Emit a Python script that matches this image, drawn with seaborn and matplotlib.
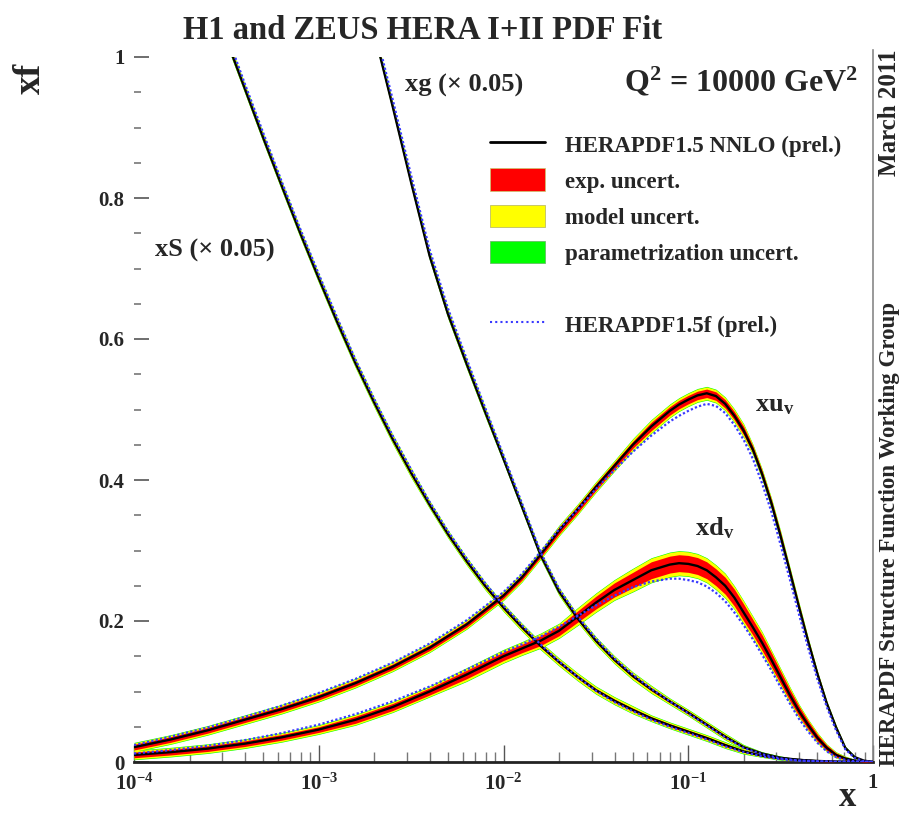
import numpy as np
import pandas as pd
import matplotlib
matplotlib.use("Agg")
import matplotlib.pyplot as plt
import seaborn as sns
from matplotlib.lines import Line2D
from matplotlib.patches import Patch
from matplotlib.ticker import FixedLocator, FixedFormatter, LogLocator, NullFormatter, MultipleLocator

# ---------------- data ----------------
# valence grid (log10 x)
logx_val = [-4.0, -3.8, -3.6, -3.4, -3.2, -3.0, -2.8, -2.6, -2.4, -2.2, -2.0,
            -1.9, -1.8, -1.7, -1.6, -1.5, -1.4, -1.3, -1.2, -1.1,
            -1.05, -1.0, -0.95, -0.9, -0.85, -0.8, -0.75, -0.7, -0.65, -0.6, -0.55, -0.5,
            -0.45, -0.4, -0.35, -0.3, -0.25, -0.2, -0.15, -0.1, -0.05, 0.0]
xuv = [0.021, 0.032, 0.045, 0.060, 0.075, 0.092, 0.112, 0.135, 0.162, 0.195, 0.236,
       0.262, 0.294, 0.328, 0.358, 0.390, 0.420, 0.450, 0.476, 0.498,
       0.507, 0.514, 0.520, 0.523, 0.519, 0.508, 0.491, 0.470, 0.443, 0.408, 0.367, 0.320,
       0.270, 0.219, 0.170, 0.124, 0.083, 0.049, 0.020, 0.007, 0.002, 0.0]
xuv_f = [0.024, 0.036, 0.049, 0.064, 0.080, 0.098, 0.118, 0.141, 0.168, 0.201, 0.241,
         0.267, 0.298, 0.330, 0.358, 0.387, 0.414, 0.440, 0.463, 0.483,
         0.491, 0.498, 0.504, 0.508, 0.505, 0.495, 0.478, 0.457, 0.430, 0.395, 0.355, 0.308,
         0.259, 0.209, 0.161, 0.117, 0.078, 0.045, 0.018, 0.006, 0.001, 0.0]
xuv_exp = [0.004, 0.004, 0.004, 0.004, 0.004, 0.004, 0.004, 0.004, 0.004, 0.004, 0.004,
           0.004, 0.004, 0.005, 0.005, 0.005, 0.005, 0.005, 0.006, 0.006,
           0.006, 0.006, 0.006, 0.006, 0.006, 0.006, 0.006, 0.006, 0.005, 0.005, 0.005, 0.005,
           0.004, 0.004, 0.003, 0.003, 0.002, 0.002, 0.001, 0.001, 0.0005, 0.0]
xuv_mod = [0.002, 0.002, 0.002, 0.002, 0.002, 0.002, 0.002, 0.002, 0.002, 0.002, 0.002,
           0.002, 0.002, 0.002, 0.002, 0.002, 0.002, 0.003, 0.003, 0.003,
           0.003, 0.003, 0.003, 0.003, 0.003, 0.003, 0.003, 0.003, 0.002, 0.002, 0.002, 0.002,
           0.002, 0.002, 0.002, 0.001, 0.001, 0.001, 0.001, 0.0005, 0.0, 0.0]
xuv_par = [0.0008, 0.0008, 0.0008, 0.0008, 0.0008, 0.0008, 0.0008, 0.0008, 0.0008, 0.0008, 0.0008,
           0.0008, 0.0008, 0.0008, 0.0008, 0.0008, 0.0008, 0.0008, 0.0008, 0.0008,
           0.0008, 0.0008, 0.0008, 0.0008, 0.0008, 0.0008, 0.0008, 0.0008, 0.0008, 0.0008, 0.0008,
           0.0008, 0.0008, 0.0008, 0.0005, 0.0005, 0.0005, 0.0005, 0.0003, 0.0003, 0.0, 0.0]

xdv = [0.010, 0.014, 0.019, 0.026, 0.035, 0.046, 0.060, 0.078, 0.100, 0.124, 0.150,
       0.161, 0.172, 0.186, 0.206, 0.226, 0.244, 0.258, 0.272, 0.280,
       0.282, 0.281, 0.278, 0.272, 0.262, 0.250, 0.233, 0.212, 0.191, 0.169, 0.145, 0.120,
       0.095, 0.072, 0.052, 0.034, 0.020, 0.010, 0.005, 0.002, 0.0005, 0.0]
xdv_f = [0.012, 0.017, 0.023, 0.031, 0.041, 0.053, 0.068, 0.086, 0.107, 0.131, 0.156,
         0.167, 0.178, 0.192, 0.207, 0.222, 0.236, 0.248, 0.256, 0.260,
         0.260, 0.258, 0.255, 0.249, 0.240, 0.228, 0.212, 0.194, 0.174, 0.152, 0.130, 0.106,
         0.083, 0.061, 0.043, 0.027, 0.015, 0.007, 0.003, 0.001, 0.0003, 0.0]
xdv_exp = [0.004, 0.004, 0.004, 0.004, 0.004, 0.004, 0.005, 0.005, 0.005, 0.006, 0.006,
           0.006, 0.007, 0.007, 0.008, 0.009, 0.010, 0.011, 0.012, 0.012,
           0.012, 0.012, 0.012, 0.012, 0.012, 0.012, 0.012, 0.012, 0.011, 0.011, 0.010, 0.009,
           0.008, 0.007, 0.006, 0.005, 0.004, 0.003, 0.002, 0.001, 0.0005, 0.0]
xdv_mod = [0.002, 0.002, 0.002, 0.002, 0.002, 0.002, 0.002, 0.002, 0.002, 0.003, 0.003,
           0.003, 0.003, 0.003, 0.004, 0.004, 0.004, 0.005, 0.005, 0.005,
           0.005, 0.005, 0.005, 0.005, 0.005, 0.005, 0.004, 0.004, 0.004, 0.004, 0.003, 0.003,
           0.003, 0.002, 0.002, 0.002, 0.001, 0.001, 0.001, 0.0005, 0.0, 0.0]
xdv_par = [0.0008, 0.0008, 0.0008, 0.0008, 0.0008, 0.0008, 0.0008, 0.0008, 0.0008, 0.0008, 0.0008,
           0.0008, 0.0008, 0.0008, 0.0008, 0.0008, 0.0008, 0.0008, 0.0008, 0.0008,
           0.0008, 0.0008, 0.0008, 0.0008, 0.0008, 0.0008, 0.0008, 0.0008, 0.0008, 0.0008, 0.0008,
           0.0008, 0.0008, 0.0008, 0.0005, 0.0005, 0.0005, 0.0005, 0.0003, 0.0003, 0.0, 0.0]

# sea (x 0.05)
logx_sea = [-3.55, -3.4, -3.3, -3.2, -3.1, -3.0, -2.9, -2.8, -2.7, -2.6, -2.5, -2.4, -2.3, -2.2, -2.1,
            -2.0, -1.9, -1.8, -1.7, -1.6, -1.5, -1.4, -1.3, -1.2, -1.1, -1.0, -0.9, -0.8, -0.7, -0.6,
            -0.5, -0.4, -0.3, -0.2, 0.0]
xS = [1.06, 0.955, 0.885, 0.817, 0.750, 0.686, 0.624, 0.565, 0.510, 0.458, 0.410, 0.365, 0.323, 0.285,
      0.250, 0.219, 0.191, 0.165, 0.142, 0.121, 0.102, 0.087, 0.074, 0.062, 0.052, 0.043, 0.034, 0.024,
      0.015, 0.009, 0.005, 0.003, 0.0015, 0.0005, 0.0]
xS_f = [1.07, 0.962, 0.892, 0.823, 0.756, 0.692, 0.630, 0.570, 0.515, 0.463, 0.415, 0.369, 0.327,
        0.289, 0.254, 0.222, 0.194, 0.167, 0.143, 0.121, 0.101, 0.085, 0.072, 0.060, 0.050, 0.041,
        0.032, 0.022, 0.014, 0.008, 0.004, 0.002, 0.001, 0.0003, 0.0]
xS_exp = [0.002, 0.002, 0.002, 0.002, 0.002, 0.002, 0.002, 0.002, 0.002, 0.002, 0.002, 0.002, 0.002,
          0.002, 0.002, 0.002, 0.002, 0.002, 0.002, 0.002, 0.002, 0.002, 0.002, 0.002, 0.002, 0.002,
          0.002, 0.002, 0.001, 0.001, 0.001, 0.0005, 0.0005, 0.0, 0.0]
xS_mod = [0.004, 0.004, 0.004, 0.004, 0.004, 0.004, 0.004, 0.004, 0.004, 0.004, 0.004, 0.003, 0.003,
          0.003, 0.003, 0.003, 0.003, 0.003, 0.003, 0.003, 0.003, 0.003, 0.003, 0.002, 0.002, 0.002,
          0.002, 0.002, 0.002, 0.001, 0.001, 0.0005, 0.0005, 0.0, 0.0]
xS_par = [0.0008, 0.0008, 0.0008, 0.0008, 0.0008, 0.0008, 0.0008, 0.0008, 0.0008, 0.0008, 0.0008,
          0.0008, 0.0008, 0.0008, 0.0008, 0.0008, 0.0008, 0.0008, 0.0008, 0.0008, 0.0008, 0.0008,
          0.0008, 0.0008, 0.0008, 0.0008, 0.0008, 0.0008, 0.0008, 0.0005, 0.0005, 0.0, 0.0, 0.0, 0.0]

# gluon (x 0.05)
logx_glu = [-2.75, -2.7, -2.6, -2.5, -2.4, -2.3, -2.2, -2.1, -2.0, -1.9, -1.8, -1.7, -1.6, -1.5, -1.4,
            -1.3, -1.2, -1.1, -1.0, -0.9, -0.8, -0.7, -0.6, -0.5, -0.4, -0.3, -0.2, 0.0]
xg = [1.08, 1.035, 0.930, 0.822, 0.718, 0.635, 0.565, 0.497, 0.430, 0.362, 0.294, 0.242, 0.204, 0.172,
      0.145, 0.122, 0.103, 0.086, 0.070, 0.053, 0.036, 0.021, 0.012, 0.006, 0.003, 0.001, 0.0003, 0.0]
xg_f = [1.09, 1.045, 0.940, 0.832, 0.727, 0.643, 0.572, 0.503, 0.435, 0.367, 0.298, 0.246, 0.207, 0.175,
        0.147, 0.124, 0.104, 0.086, 0.069, 0.052, 0.035, 0.020, 0.011, 0.005, 0.002, 0.001, 0.0002, 0.0]
xg_exp = [0.002, 0.002, 0.002, 0.002, 0.002, 0.002, 0.002, 0.002, 0.002, 0.002, 0.002, 0.002, 0.002,
          0.002, 0.002, 0.002, 0.002, 0.002, 0.002, 0.002, 0.002, 0.001, 0.001, 0.001, 0.0005, 0.0005,
          0.0, 0.0]
xg_mod = [0.004, 0.004, 0.004, 0.004, 0.004, 0.004, 0.004, 0.004, 0.003, 0.003, 0.003, 0.003, 0.003,
          0.003, 0.003, 0.003, 0.003, 0.002, 0.002, 0.002, 0.002, 0.002, 0.001, 0.001, 0.0005, 0.0005,
          0.0, 0.0]
xg_par = [0.0008, 0.0008, 0.0008, 0.0008, 0.0008, 0.0008, 0.0008, 0.0008, 0.0008, 0.0008, 0.0008,
          0.0008, 0.0008, 0.0008, 0.0008, 0.0008, 0.0008, 0.0008, 0.0008, 0.0008, 0.0008, 0.0008,
          0.0005, 0.0005, 0.0, 0.0, 0.0, 0.0]

x_ticks = [1e-4, 1e-3, 1e-2, 1e-1, 1.0]
x_ticklabels = [r"$\mathbf{10^{-4}}$", r"$\mathbf{10^{-3}}$", r"$\mathbf{10^{-2}}$",
                r"$\mathbf{10^{-1}}$", r"$\mathbf{1}$"]
y_ticks = [0, 0.2, 0.4, 0.6, 0.8, 1.0]
y_ticklabels = ["0", "0.2", "0.4", "0.6", "0.8", "1"]
legend_labels = ["HERAPDF1.5 NNLO (prel.)", "exp. uncert.", "model uncert.",
                 "parametrization uncert.", " ", "HERAPDF1.5f (prel.)"]

# ---------------- style ----------------
sns.set_theme(style="ticks")
plt.rcParams["font.family"] = ["Liberation Serif", "DejaVu Serif"]
plt.rcParams["font.weight"] = "bold"
plt.rcParams["mathtext.fontset"] = "custom"
plt.rcParams["mathtext.rm"] = "Liberation Serif:bold"
plt.rcParams["mathtext.bf"] = "Liberation Serif:bold"
plt.rcParams["mathtext.it"] = "Liberation Serif:bold"

RED = "#ff0000"
YEL = "#ffff00"
GRN = "#00ff00"
BLUE = "#3a3aff"

fig = plt.figure(figsize=(9.05, 8.16), dpi=100)
ax = fig.add_axes([134 / 905, 1 - 762 / 816, (873 - 134) / 905, (762 - 57) / 816])

curves = [
    ("xS", logx_sea, xS, xS_f, xS_exp, xS_mod, xS_par),
    ("xg", logx_glu, xg, xg_f, xg_exp, xg_mod, xg_par),
    ("xuv", logx_val, xuv, xuv_f, xuv_exp, xuv_mod, xuv_par),
    ("xdv", logx_val, xdv, xdv_f, xdv_exp, xdv_mod, xdv_par),
]

frames = []
for name, lx, c, cf, e, m, p in curves:
    x = np.power(10.0, np.array(lx))
    c = np.array(c); e = np.array(e); m = np.array(m); p = np.array(p)
    tot = e + m + p
    em = e + m
    ax.fill_between(x, c - tot, c + tot, color=GRN, lw=0, zorder=1)
    ax.fill_between(x, c - em, c + em, color=YEL, lw=0, zorder=2)
    ax.fill_between(x, c - e, c + e, color=RED, lw=0, zorder=3)
    frames.append(pd.DataFrame({"x": x, "y": c, "yf": np.array(cf), "pdf": name}))

df = pd.concat(frames, ignore_index=True)
sns.lineplot(data=df, x="x", y="y", units="pdf", estimator=None, color="black",
             lw=1.7, ax=ax, zorder=4, sort=False)
sns.lineplot(data=df, x="x", y="yf", units="pdf", estimator=None, color=BLUE,
             lw=1.6, ls=(0, (1, 1)), ax=ax, zorder=5, sort=False)

ax.set_xscale("log")
ax.set_xlim(1e-4, 1.0)
ax.set_ylim(0, 1.0)
ax.set_xlabel("")
ax.set_ylabel("")

# axes decoration
ax.spines["left"].set_visible(False)
ax.spines["top"].set_visible(False)
ax.spines["bottom"].set_linewidth(2.0)
ax.spines["bottom"].set_color("#222222")
ax.spines["right"].set_color("#888888")
ax.spines["right"].set_linewidth(1.2)
ax.spines["right"].set_bounds(0, 1.01)

ax.xaxis.set_major_locator(FixedLocator(x_ticks))
ax.xaxis.set_major_formatter(FixedFormatter(x_ticklabels))
ax.xaxis.set_minor_locator(LogLocator(base=10, subs=np.arange(2, 10)))
ax.xaxis.set_minor_formatter(NullFormatter())
ax.yaxis.set_major_locator(FixedLocator(y_ticks))
ax.yaxis.set_major_formatter(FixedFormatter(y_ticklabels))
ax.yaxis.set_minor_locator(MultipleLocator(0.05))
ax.tick_params(axis="x", which="major", direction="in", length=12, width=1, color="#555555",
               labelsize=15, pad=8)
ax.tick_params(axis="x", which="minor", direction="in", length=7, width=1, color="#777777")
ax.tick_params(axis="y", which="major", direction="in", length=11, width=1.2, color="#555555",
               labelsize=15, pad=7, left=True, right=False)
ax.tick_params(axis="y", which="minor", direction="in", length=5, width=1.2, color="#777777",
               left=True, right=False)
for lab in ax.get_yticklabels():
    lab.set_fontweight("bold")

# legend
handles = [Line2D([], [], color="black", lw=2),
           Patch(facecolor=RED, edgecolor="#c8c870", lw=0.5),
           Patch(facecolor=YEL, edgecolor="#b0b060", lw=0.5),
           Patch(facecolor=GRN, edgecolor="#60b060", lw=0.5),
           Patch(facecolor="none", edgecolor="none"),
           Line2D([], [], color=BLUE, lw=1.5, ls=(0, (1, 1.5)))]
leg = ax.legend(handles, legend_labels, loc="upper left", bbox_to_anchor=(0.482, 0.893),
                frameon=False, fontsize=16.5, handlelength=2.4, handleheight=1.15,
                handletextpad=0.85, labelspacing=0.52, borderpad=0, borderaxespad=0)
for t in leg.get_texts():
    t.set_fontweight("bold")

# labels
ax.text(0.110, 0.726, "xS (× 0.05)", transform=ax.transAxes, ha="center", va="center",
        fontsize=19, fontweight="bold")
ax.text(0.367, 0.960, "xg (× 0.05)", transform=ax.transAxes, ha="left", va="center",
        fontsize=19, fontweight="bold")
ax.text(0.840, 0.506, r"xu$_{\mathbf{v}}$", transform=ax.transAxes, ha="left", va="center",
        fontsize=19, fontweight="bold")
ax.text(0.759, 0.332, r"xd$_{\mathbf{v}}$", transform=ax.transAxes, ha="left", va="center",
        fontsize=19, fontweight="bold")
ax.text(0.980, 0.965, r"Q$^{\mathbf{2}}$ = 10000 GeV$^{\mathbf{2}}$", transform=ax.transAxes,
        ha="right", va="center", fontsize=23, fontweight="bold")

fig.text(0.467, 0.963, "H1 and ZEUS HERA I+II PDF Fit", ha="center", va="center",
         fontsize=23.5, fontweight="bold")
fig.text(0.034, 0.904, "xf", rotation=90, ha="center", va="center", fontsize=27, fontweight="bold")
fig.text(0.937, 0.003, "x", ha="center", va="bottom", fontsize=25, fontweight="bold")
fig.text(0.983, 1 - 50 / 816, "March 2011", rotation=90, ha="center", va="top",
         fontsize=18, fontweight="bold")
fig.text(0.983, 1 - 766 / 816, "HERAPDF Structure Function Working Group", rotation=90,
         ha="center", va="bottom", fontsize=16.5, fontweight="bold")

fig.savefig("out.png", dpi=100, facecolor="white")
